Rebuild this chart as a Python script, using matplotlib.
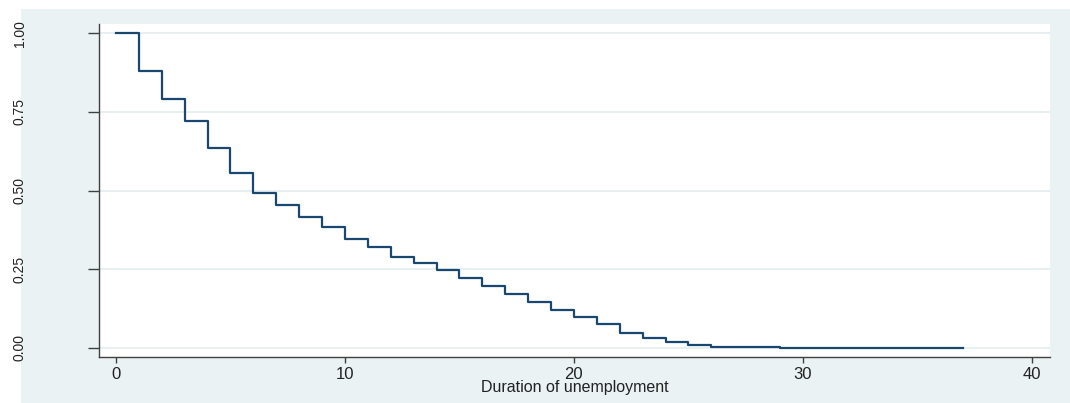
import matplotlib
matplotlib.use('Agg')
import matplotlib.pyplot as plt
from matplotlib.patches import Rectangle

plt.rcParams['font.family'] = ['Liberation Sans', 'DejaVu Sans']

# Kaplan-Meier survivor estimate
time = [0, 1, 2, 3, 4, 5, 6, 7, 8, 9, 10, 11, 12, 13, 14, 15, 16, 17, 18, 19,
        20, 21, 22, 23, 24, 25, 26, 27, 29, 32, 37]
survival = [1.000, 0.879, 0.791, 0.720, 0.636, 0.557, 0.491, 0.455, 0.417, 0.385,
            0.346, 0.321, 0.289, 0.271, 0.247, 0.223, 0.197, 0.171, 0.146, 0.120,
            0.099, 0.076, 0.048, 0.032, 0.018, 0.010, 0.004, 0.002, 0.001, 0.0004,
            0.0004]

x_ticks = [0, 10, 20, 30, 40]
y_ticks = [0.0, 0.25, 0.5, 0.75, 1.0]
y_ticklabels = ['0.00', '0.25', '0.50', '0.75', '1.00']
x_title = 'Duration of unemployment'

bg_color = '#eaf2f3'
grid_color = '#e3ecee'
line_color = '#1a476f'
axis_color = '#404040'

fig = plt.figure(figsize=(10.7, 4.03), dpi=100)
fig.patch.set_facecolor('white')
fig.patches.append(Rectangle((21 / 1070, 0), 1 - 21 / 1070, 1 - 9 / 403,
                             transform=fig.transFigure, facecolor=bg_color,
                             edgecolor='none', zorder=-10))

ax = fig.add_axes([99 / 1070, 1 - 357 / 403, (1050 - 99) / 1070, (357 - 24) / 403])
ax.set_facecolor('white')

ax.plot(time, survival, drawstyle='steps-post', color=line_color, linewidth=1.6)

ax.set_xlim(-0.74, 40.79)
ax.set_ylim(-0.029, 1.029)
ax.set_xticks(x_ticks)
ax.set_yticks(y_ticks)
ax.set_yticklabels(y_ticklabels, rotation=90, va='center')

ax.yaxis.grid(True, color=grid_color, linewidth=1.2)
ax.set_axisbelow(True)

for side in ['top', 'right']:
    ax.spines[side].set_visible(False)
for side in ['left', 'bottom']:
    ax.spines[side].set_color(axis_color)
    ax.spines[side].set_linewidth(1.0)

ax.tick_params(axis='y', direction='out', length=8, width=1, color=axis_color,
               pad=44, labelsize=10, labelcolor='#222222')
ax.tick_params(axis='x', direction='out', length=4, width=1, color=axis_color,
               pad=3, labelsize=12, labelcolor='#222222')

ax.set_xlabel(x_title, fontsize=11.5, color='#222222', labelpad=-1)

fig.savefig('out.png', dpi=100)
